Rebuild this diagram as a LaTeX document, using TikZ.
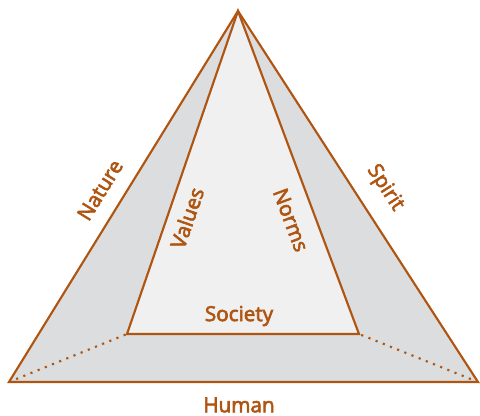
\documentclass[tikz,border=0pt]{standalone}
\usepackage{fontspec}
\setmainfont{Open Sans}[FakeBold=3]
\definecolor{rust}{RGB}{175,85,18}
\definecolor{outergray}{RGB}{220,221,223}
\definecolor{innergray}{RGB}{240,240,240}
\begin{document}
\begin{tikzpicture}[x=0.75pt,y=0.75pt,yscale=-1,xscale=1,
  edge/.style={draw=rust,line width=1.6pt,line join=miter},
  lbl/.style={text=rust,font=\fontsize{15.5}{18}\selectfont,inner sep=0.75pt}]
\useasboundingbox (0,0) rectangle (480,416);

% corners
\coordinate (top) at (238,11);
\coordinate (bl) at (9,382);
\coordinate (br) at (478,382);
\coordinate (ibl) at (127,334);
\coordinate (ibr) at (359,334);

%Outer triangle
\filldraw [edge,fill=outergray] (top) -- (br) -- (bl) -- cycle ;
%Inner shape
\filldraw [edge,fill=innergray] (top) -- (ibr) -- (ibl) -- cycle ;
%Dotted lines
\draw [rust,line width=1.6pt,dash pattern=on 1.6pt off 4.2pt] (bl) -- (ibl) ;
\draw [rust,line width=1.6pt,dash pattern=on 1.6pt off 4.2pt] (br) -- (ibr) ;

% Text Node
\node (nature) [lbl,rotate=58.3] at (100,190) {Nature};
% Text Node
\node (values) [lbl,rotate=71] at (187,218) {Values};
% Text Node
\node (norms) [lbl,rotate=-69.5] at (291,220) {Norms};
% Text Node
\node (spirit) [lbl,rotate=-57.1] at (385,188) {Spirit};
% Text Node
\node (society) [lbl] at (239,316) {Society};
% Text Node
\node (human) [lbl] at (239,405) {Human};

\end{tikzpicture}
\end{document}
